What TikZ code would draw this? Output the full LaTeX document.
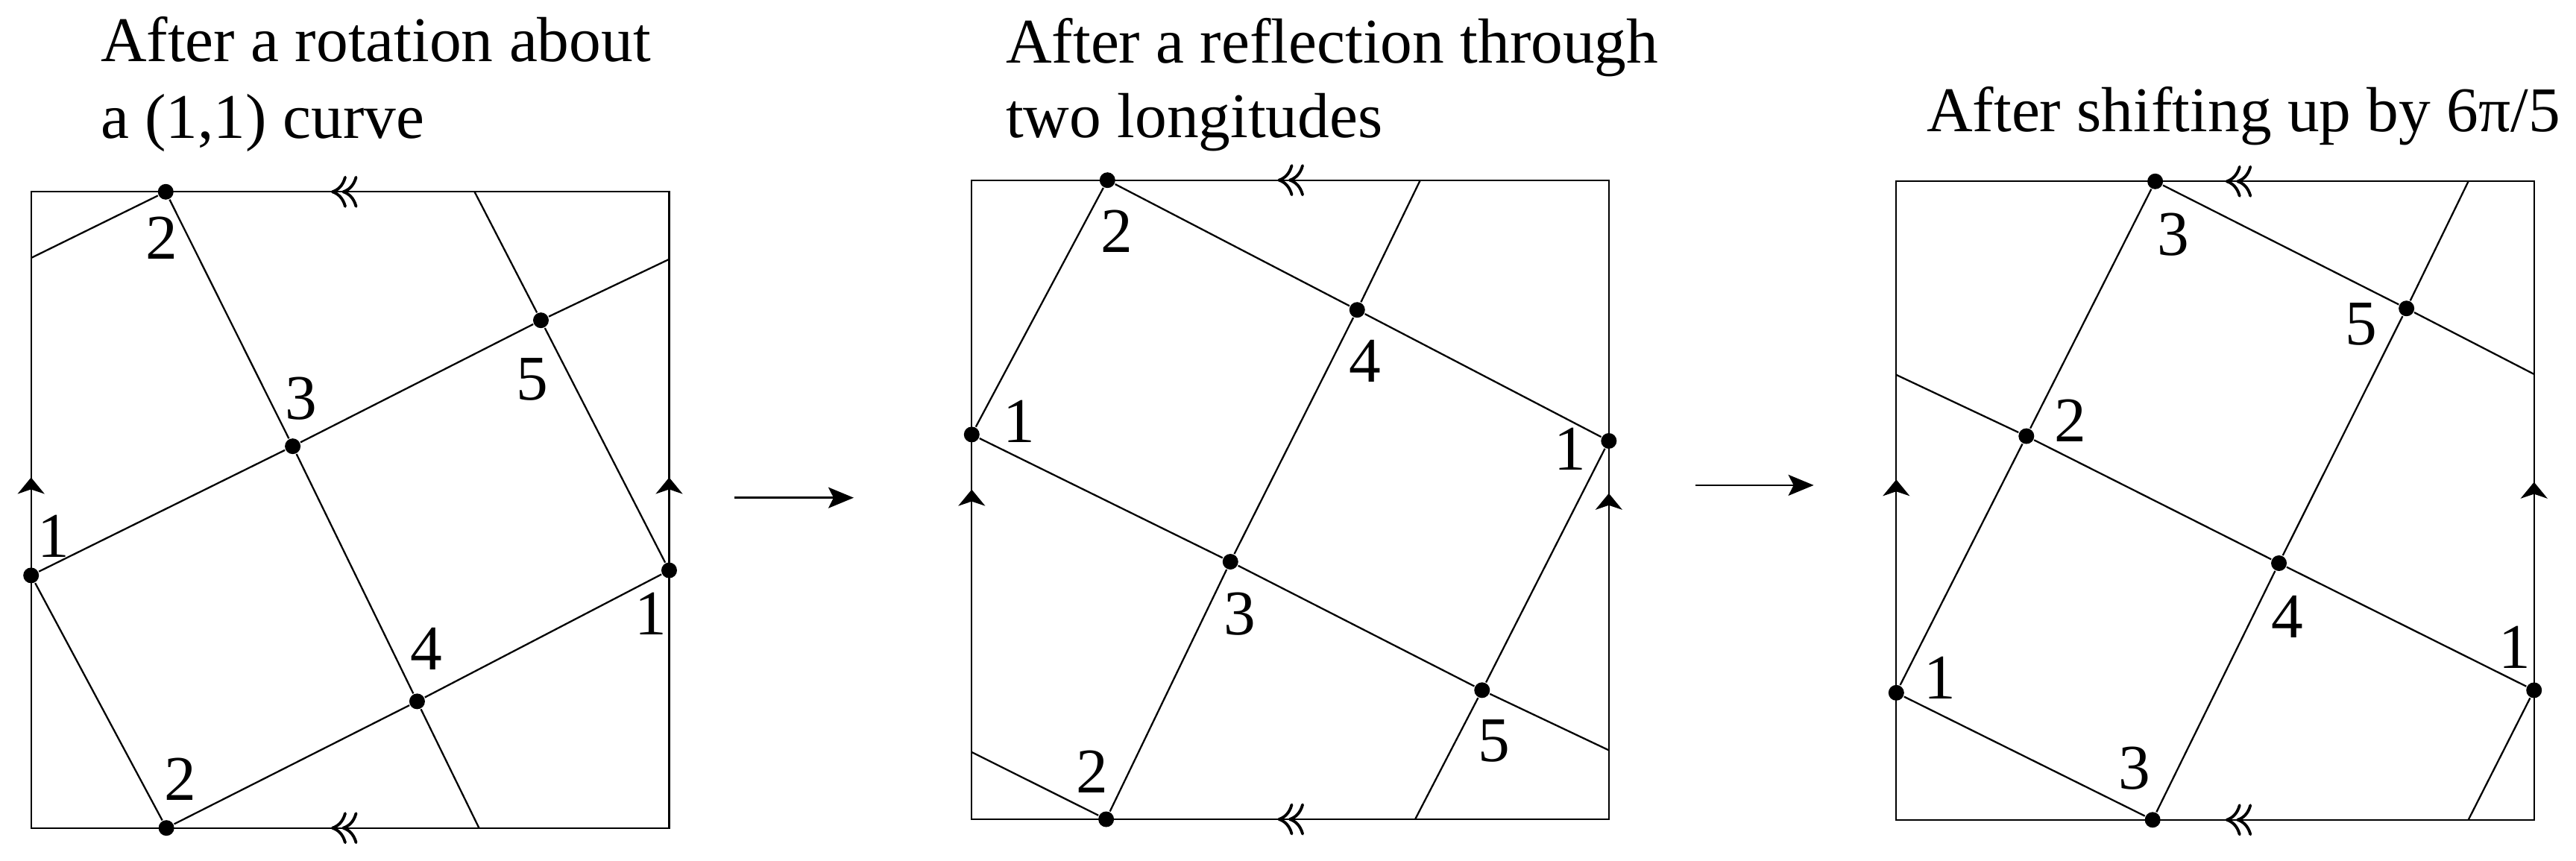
\documentclass[tikz,border=0pt]{standalone}
\usepackage{fontspec}
\setmainfont{Liberation Serif}
\usetikzlibrary{arrows.meta}
\tikzset{
  dot/.style={circle,fill,inner sep=0pt,minimum size=2.1mm},
  lbl/.style={inner sep=0pt},
  ttl/.style={inner sep=0pt,anchor=base west},
  chev/.style={-{Computer Modern Rightarrow[length=2.1mm,width=4.3mm,line width=1.1pt]}},
  uparr/.style={-{Stealth[length=2.2mm,width=3.6mm,inset=0.6mm]}},
  maparr/.style={line width=0.75pt,-{Stealth[length=3.4mm,width=2.8mm,inset=0.7mm]}},
}
\begin{document}
\begin{tikzpicture}[line width=0.65pt,font=\fontsize{24.3}{29.4}\selectfont]
\useasboundingbox (0,0) rectangle (34.55,11.54);

\node[ttl] (ttlA1) at (1.34,10.713) {After a rotation about};
\node[ttl] (ttlA2) at (1.34,9.68) {a (1,1) curve};
\node[ttl] (ttlB1) at (13.48,10.69) {After a reflection through};
\node[ttl] (ttlB2) at (13.48,9.69) {two longitudes};
\node[ttl] (ttlC) at (25.83,9.777) {After shifting up by 6π/5};

% first torus
\begin{scope}[shift={(0.417,0.433)},x=8.558cm,y=8.534cm]
\draw (0,0) rectangle (1,1);
\node[dot] (A1L) at (0,0.397) {};
\node[dot] (A1R) at (1,0.405) {};
\node[dot] (A2T) at (0.211,1) {};
\node[dot] (A2B) at (0.212,0) {};
\node[dot] (A3) at (0.410,0.600) {};
\node[dot] (A4) at (0.605,0.199) {};
\node[dot] (A5) at (0.799,0.798) {};
\coordinate (Aw) at (0,0.896);
\coordinate (Ae) at (1,0.894);
\coordinate (An) at (0.695,1);
\coordinate (As) at (0.702,0);
\draw (Aw) -- (A2T);
\draw (A1L) -- (A3) -- (A5) -- (Ae);
\draw (A2B) -- (A4) -- (A1R);
\draw (A2T) -- (A3) -- (A4) -- (As);
\draw (An) -- (A5) -- (A1R);
\draw (A1L) -- (A2B);
\foreach \u in {0.470,0.487} {
  \draw[chev] (\u+0.05,1) -- (\u,1);
  \draw[chev] (\u+0.05,0) -- (\u,0);
}
\foreach \u in {0,1}
  \draw[uparr] (\u,0.5) -- (\u,0.551);
\end{scope}

% after the reflection
\begin{scope}[shift={(13.033,0.55)},x=8.545cm,y=8.573cm]
\draw (0,0) rectangle (1,1);
\node[dot] (B1L) at (0,0.602) {};
\node[dot] (B1R) at (1,0.592) {};
\node[dot] (B2T) at (0.213,1) {};
\node[dot] (B2B) at (0.211,0) {};
\node[dot] (B3) at (0.406,0.403) {};
\node[dot] (B4) at (0.605,0.797) {};
\node[dot] (B5) at (0.801,0.202) {};
\coordinate (Bw) at (0,0.105);
\coordinate (Be) at (1,0.108);
\coordinate (Bn) at (0.704,1);
\coordinate (Bs) at (0.696,0);
\draw (B1L) -- (B2T);
\draw (B1L) -- (B3) -- (B5) -- (Be);
\draw (Bw) -- (B2B);
\draw (B2T) -- (B4) -- (B1R);
\draw (B2B) -- (B3) -- (B4) -- (Bn);
\draw (Bs) -- (B5) -- (B1R);
\foreach \u in {0.480,0.497} {
  \draw[chev] (\u+0.05,1) -- (\u,1);
  \draw[chev] (\u+0.05,0) -- (\u,0);
}
\draw[uparr] (0,0.46) -- (0,0.516);
\draw[uparr] (1,0.46) -- (1,0.510);
\end{scope}

% after the shift
\begin{scope}[shift={(25.433,0.542)},x=8.554cm,y=8.565cm]
\draw (0,0) rectangle (1,1);
\node[dot] (C1L) at (0,0.199) {};
\node[dot] (C1R) at (1,0.203) {};
\node[dot] (C2) at (0.204,0.601) {};
\node[dot] (C3T) at (0.406,1) {};
\node[dot] (C3B) at (0.402,0) {};
\node[dot] (C4) at (0.600,0.402) {};
\node[dot] (C5) at (0.800,0.801) {};
\coordinate (Cw) at (0,0.697);
\coordinate (Ce) at (1,0.698);
\coordinate (Cn) at (0.897,1);
\coordinate (Cs) at (0.897,0);
\draw (C1L) -- (C3B);
\draw (C3T) -- (C5) -- (Ce);
\draw (Cw) -- (C2) -- (C4) -- (C1R);
\draw (C1L) -- (C2) -- (C3T);
\draw (C3B) -- (C4) -- (C5) -- (Cn);
\draw (Cs) -- (C1R);
\foreach \u in {0.516,0.533} {
  \draw[chev] (\u+0.05,1) -- (\u,1);
  \draw[chev] (\u+0.05,0) -- (\u,0);
}
\draw[uparr] (0,0.48) -- (0,0.533);
\draw[uparr] (1,0.48) -- (1,0.529);
\end{scope}

% point labels
\foreach \p/\dx/\dy/\t in {A2T/-0.05/-0.62/2,A3/0.115/0.64/3,A5/-0.115/-0.79/5,A1L/0.30/0.53/1,
    A1R/-0.25/-0.58/1,A4/0.12/0.70/4,A2B/0.19/0.65/2,
    B2T/0.13/-0.69/2,B1L/0.64/0.18/1,B4/0.11/-0.69/4,B1R/-0.52/-0.11/1,
    B3/0.13/-0.70/3,B5/0.16/-0.68/5,B2B/-0.19/0.64/2,
    C3T/0.24/-0.71/3,C5/-0.61/-0.21/5,C2/0.59/0.21/2,C4/0.11/-0.72/4,
    C1L/0.59/0.20/1,C1R/-0.26/0.58/1,C3B/-0.24/0.69/3}
  \node[lbl] (l\p) at ([shift={(\dx cm,\dy cm)}]\p) {\t};

\coordinate (arA0) at (9.85,4.863);
\coordinate (arA1) at (11.45,4.863);
\coordinate (arB0) at (22.737,5.031);
\coordinate (arB1) at (24.326,5.031);
\draw[maparr] (arA0) -- (arA1);
\draw[maparr] (arB0) -- (arB1);
\end{tikzpicture}
\end{document}
